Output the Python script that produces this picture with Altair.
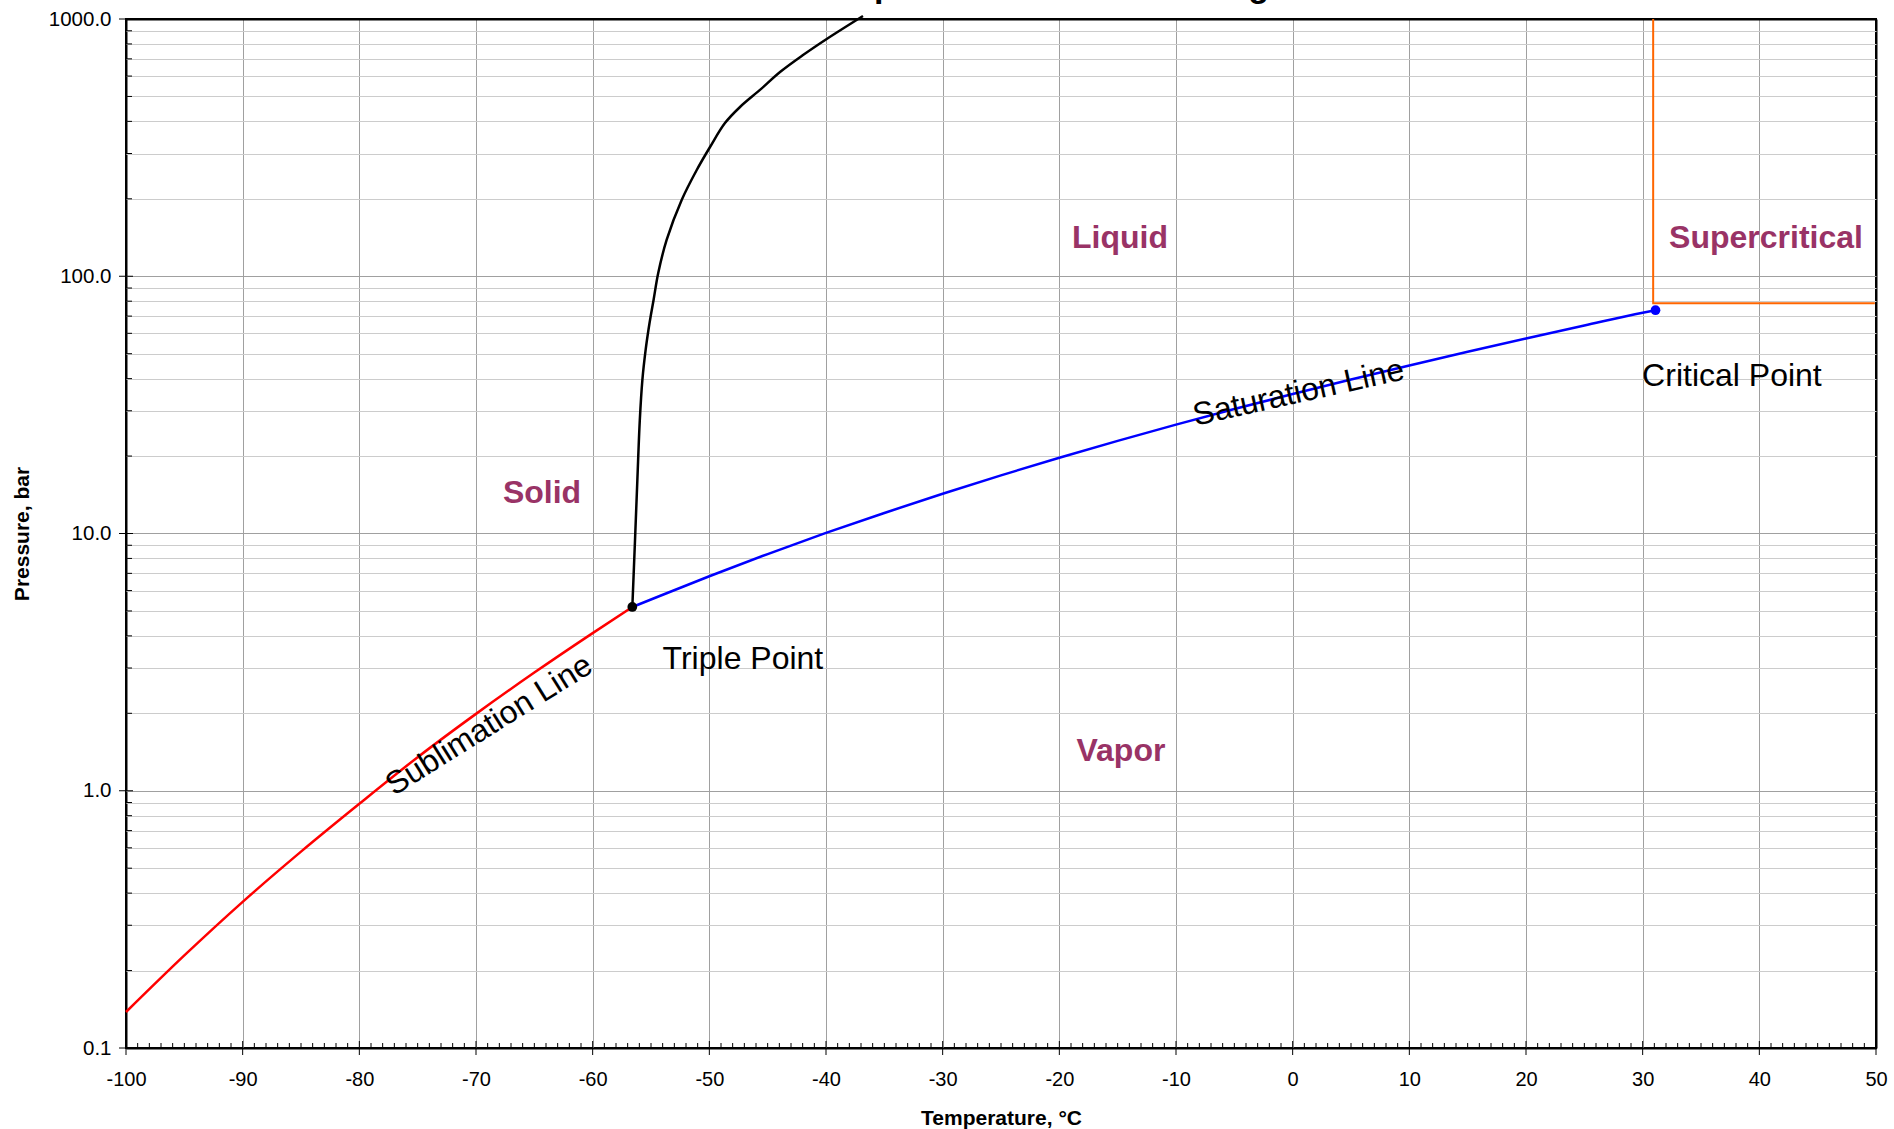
import altair as alt
import pandas as pd

FONT = "Liberation Sans"
W, H = 1750, 1029

# ---------------- data ----------------
sub_T = [-100, -95, -90, -85, -80, -75, -70, -65, -60, -56.6]
sub_P = [0.138, 0.229, 0.37, 0.58, 0.89, 1.35, 1.99, 2.88, 4.10, 5.18]

sat_T = [-56.6, -55, -50, -45, -40, -35, -30, -25, -20, -15, -10, -5, 0, 5, 10, 15, 20, 25, 30, 31.1]
sat_P = [5.18, 5.54, 6.82, 8.32, 10.05, 12.02, 14.28, 16.83, 19.70, 22.91, 26.49, 30.46,
         34.85, 39.69, 45.02, 50.87, 57.29, 64.34, 72.14, 73.8]

melt_T = [-56.6, -56.37, -56.17, -55.96, -55.74, -55.46, -55.22, -55.01, -54.78, -54.38,
          -53.66, -52.37, -51.08, -49.94, -48.66, -47.37, -45.66, -43.94, -41.97, -39.94, -36.83]
melt_P = [5.18, 9.43, 16.1, 27.6, 39.5, 51.7, 61.8, 70.7, 80.9, 103, 138.4, 197.9, 258.8,
          318, 394, 455, 530, 622, 724, 836, 1027]

sc_T = [30.9, 30.9, 49.9]
sc_P = [1000, 78.5, 78.5]

triple_T, triple_P = [-56.6], [5.18]
crit_T, crit_P = [31.1], [73.8]

region_text = ["Liquid", "Supercritical", "Solid", "Vapor"]
region_T = [-14.8, 40.57, -64.34, -14.72]
region_P = [141, 141, 14.4, 1.43]

point_text = ["Triple Point", "Critical Point"]
point_T = [-47.12, 37.65]
point_P = [3.24, 41.0]

satlab_T, satlab_P = [0.5], [35.3]
sublab_T, sublab_P = [-68.89], [1.80]

# chart title (mostly above the visible page, as in the original)
title_text = ["Carbon Dioxide: Temperature - Pressure Diagram"]
title_T, title_P = [-30.83], [1218]

x_major = [-100, -90, -80, -70, -60, -50, -40, -30, -20, -10, 0, 10, 20, 30, 40, 50]
x_minor = [v for v in range(-100, 51) if v % 10 != 0]
y_major = [0.1, 1, 10, 100, 1000]
y_minor = [round(m * 10 ** k, 6) for k in range(-1, 3) for m in range(2, 10)]
y_all = sorted(y_major + y_minor)

# ---------------- scales / axes ----------------
xscale = alt.Scale(domain=[-100, 50], nice=False, zero=False)
yscale = alt.Scale(type="log", domain=[0.1, 1000], nice=False)

x_axis = alt.Axis(
    values=x_major, grid=True,
    labelExpr="'' + datum.value",
    gridColor={"condition": {"test": "datum.value <= -100 || datum.value >= 50", "value": "black"},
               "value": "#a0a0a0"},
    gridWidth={"condition": {"test": "datum.value <= -100 || datum.value >= 50", "value": 2},
               "value": 1},
    domain=False, ticks=True, tickSize=0,
    labelFont=FONT, labelFontSize=20, labelColor="black", labelPadding=21,
    labelFlush=False, labelOverlap=False,
    title="Temperature, °C", titleFont=FONT, titleFontSize=21, titleFontWeight="bold",
    titleColor="black", titleY=70, titleBaseline="middle",
)

y_axis = alt.Axis(
    values=y_all, grid=True,
    labelExpr="(datum.value == 0.1 || datum.value == 1 || datum.value == 10 || datum.value == 100 || datum.value == 1000) ? format(datum.value, '.1f') : ''",
    gridColor={"condition": [
        {"test": "datum.value <= 0.1 || datum.value >= 1000", "value": "black"},
        {"test": "datum.value == 1 || datum.value == 10 || datum.value == 100", "value": "#a0a0a0"}],
        "value": "#cccccc"},
    gridWidth={"condition": {"test": "datum.value <= 0.1 || datum.value >= 1000", "value": 2},
               "value": 1},
    domain=False, ticks=True, tickSize=0,
    labelFont=FONT, labelFontSize=20.5, labelColor="black", labelPadding=15,
    labelFlush=False, labelOverlap=False,
    title="Pressure, bar", titleFont=FONT, titleFontSize=21, titleFontWeight="bold",
    titleColor="black", titleX=-104, titleY=H / 2, titleAngle=270,
    titleAlign="center", titleBaseline="middle",
)


def X(field="T"):
    return alt.X(f"{field}:Q", scale=xscale, axis=x_axis)


def Y(field="P"):
    return alt.Y(f"{field}:Q", scale=yscale, axis=y_axis)


def df(T, P, **extra):
    d = {"T": T, "P": P}
    d.update(extra)
    return pd.DataFrame(d)


sat = alt.Chart(df(sat_T, sat_P)).mark_line(color="#0000ff", strokeWidth=2.5,
                                            interpolate="monotone").encode(x=X(), y=Y())
sub = alt.Chart(df(sub_T, sub_P)).mark_line(color="#ff0000", strokeWidth=2.5,
                                            interpolate="monotone").encode(x=X(), y=Y())
melt = alt.Chart(df(melt_T, melt_P)).mark_line(color="black", strokeWidth=2.5,
                                               interpolate="catmull-rom").encode(x=X(), y=Y())
sc = alt.Chart(df(sc_T, sc_P, i=list(range(len(sc_T))))).mark_line(
    color="#ff6600", strokeWidth=2).encode(x=X(), y=Y(), order="i:Q")

tp = alt.Chart(df(triple_T, triple_P)).mark_circle(color="black", size=95, opacity=1).encode(x=X(), y=Y())
cp = alt.Chart(df(crit_T, crit_P)).mark_circle(color="#0000ff", size=95, opacity=1).encode(x=X(), y=Y())

regions = alt.Chart(df(region_T, region_P, label=region_text)).mark_text(
    font=FONT, fontSize=32, fontWeight="bold", color="#993366", align="center", baseline="middle"
).encode(x=X(), y=Y(), text="label:N")

points_lab = alt.Chart(df(point_T, point_P, label=point_text)).mark_text(
    font=FONT, fontSize=32, color="black", align="center", baseline="middle"
).encode(x=X(), y=Y(), text="label:N")

satlab = alt.Chart(df(satlab_T, satlab_P, label=["Saturation Line"])).mark_text(
    font=FONT, fontSize=32, color="black", align="center", baseline="middle", angle=347.5
).encode(x=X(), y=Y(), text="label:N")

sublab = alt.Chart(df(sublab_T, sublab_P, label=["Sublimation Line"])).mark_text(
    font=FONT, fontSize=32, color="black", align="center", baseline="middle", angle=328
).encode(x=X(), y=Y(), text="label:N")

title_mark = alt.Chart(df(title_T, title_P, label=title_text)).mark_text(
    font=FONT, fontSize=34, fontWeight="bold", color="black", align="center",
    baseline="alphabetic"
).encode(x=X(), y=Y(), text="label:N")

# tick marks (inside and crossing)
xmaj = alt.Chart(pd.DataFrame({"T": x_major})).mark_rule(color="black", strokeWidth=1).encode(
    x=X(), y=alt.value(H - 7), y2=alt.value(H + 7))
xmin = alt.Chart(pd.DataFrame({"T": x_minor})).mark_rule(color="black", strokeWidth=1).encode(
    x=X(), y=alt.value(H - 5), y2=alt.value(H))
ymaj = alt.Chart(pd.DataFrame({"P": y_major})).mark_rule(color="black", strokeWidth=1).encode(
    y=Y(), x=alt.value(-7), x2=alt.value(7))
ymin = alt.Chart(pd.DataFrame({"P": y_minor})).mark_rule(color="black", strokeWidth=1).encode(
    y=Y(), x=alt.value(0), x2=alt.value(6))

chart = alt.layer(
    sat, sub, melt, sc, xmaj, xmin, ymaj, ymin, tp, cp, regions, points_lab, satlab, sublab,
    title_mark
).properties(
    width=W, height=H,
    background="white",
    autosize=alt.AutoSizeParams(type="none"),
    padding={"left": 126, "top": 19, "right": 18, "bottom": 81},
).configure_view(stroke="black", strokeWidth=2)

chart.save("out.html", embed_options={"renderer": "svg", "actions": False})
